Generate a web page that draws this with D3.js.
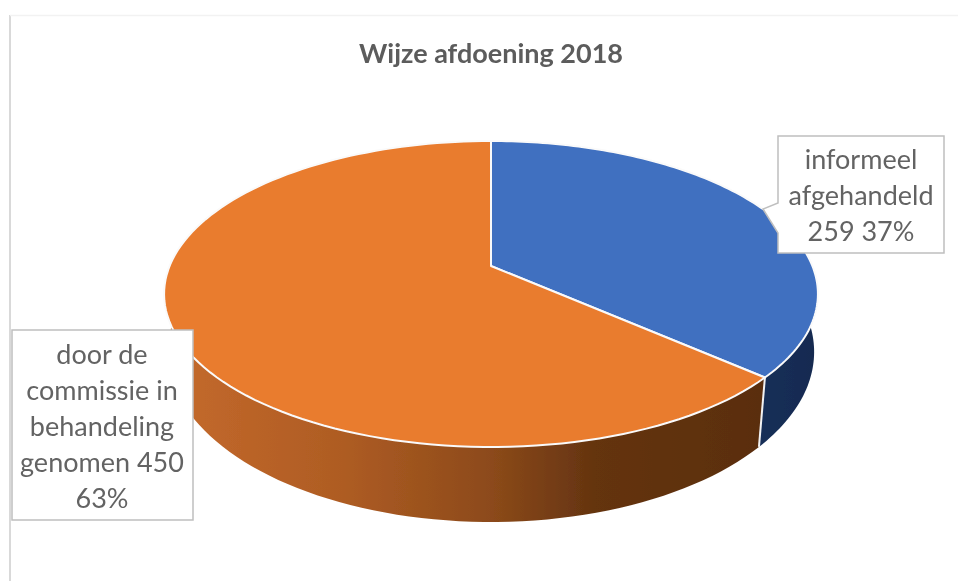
<!DOCTYPE html>
<html>
<head>
<meta charset="utf-8">
<script src="https://cdn.jsdelivr.net/npm/d3@7"></script>
<style>
html, body { margin: 0; padding: 0; background: #fff; }
svg { display: block; }
text { font-family: Lato, "Open Sans", sans-serif; fill: #636363; }
</style>
</head>
<body>
<script>
var title = 'Wijze afdoening 2018';
var categories = ['informeel afgehandeld', 'door de commissie in behandeling genomen'];
var values = [259, 450];
var percentLabels = ['37%', '63%'];
var topColors = ['#3f6fc0', '#e97b2e'];
var wallStops = [
  [['0%', '#182f58'], ['100%', '#142a50']],
  [['0%', '#c56a2c'], ['30%', '#ae5c23'], ['55%', '#8c4a1a'], ['72%', '#653410'], ['100%', '#5a2e10']]
];

var width = 958, height = 581;

var svg = d3.select('body').append('svg')
  .attr('width', width)
  .attr('height', height);

// slightly soft, the reference is an enlarged screenshot
var defs = svg.append('defs');
defs.append('filter').attr('id', 'soft')
  .append('feGaussianBlur').attr('stdDeviation', 0.7);

var root = svg.append('g').attr('filter', 'url(#soft)');

// chart frame, only left and top edge are visible
root.append('line').attr('x1', 10).attr('x2', 10).attr('y1', 15).attr('y2', height)
  .attr('stroke', '#d9d9d9').attr('stroke-width', 2);
root.append('line').attr('x1', 10).attr('x2', width).attr('y1', 15.5).attr('y2', 15.5)
  .attr('stroke', '#f2f2f2').attr('stroke-width', 1.5);

root.append('text')
  .attr('x', 491).attr('y', 63)
  .attr('text-anchor', 'middle')
  .style('font-size', '27px')
  .style('font-weight', 700)
  .style('fill', '#5c5c5c')
  .text(title);

// perspective disc: u,v on the unit circle, v towards the viewer
function project(plane, a) {
  var u = Math.sin(a), v = -Math.cos(a), w = 1 - plane.p * v;
  return [plane.x + plane.a * u / w, plane.y + plane.b * v / w];
}
var topPlane = {x: 491, y: 266, a: 321.4, b: 147.9, p: 0.183};
var bottomPlane = {x: 491, y: 323.8, a: 318.7, b: 165.5, p: 0.165};

var pie = d3.pie().sort(null);
var slices = pie(values);
var line = d3.line();

function rim(plane, d) {
  var n = 120;
  return d3.range(n + 1).map(function(i) {
    return project(plane, d.startAngle + (d.endAngle - d.startAngle) * i / n);
  });
}

// side walls first, the top faces cover their back part
slices.forEach(function(d, i) {
  var grad = defs.append('linearGradient')
    .attr('id', 'wall' + i)
    .attr('gradientUnits', 'userSpaceOnUse')
    .attr('x1', i == 0 ? 760 : 165).attr('x2', i == 0 ? 818 : 760)
    .attr('y1', 0).attr('y2', 0);
  wallStops[i].forEach(function(s) {
    grad.append('stop').attr('offset', s[0]).attr('stop-color', s[1]);
  });
  root.append('path')
    .attr('d', line(rim(topPlane, d).concat(rim(bottomPlane, d).reverse())) + 'Z')
    .attr('fill', 'url(#wall' + i + ')');
});

// seam between the two walls
root.append('line')
  .attr('x1', project(topPlane, slices[0].endAngle)[0])
  .attr('y1', project(topPlane, slices[0].endAngle)[1])
  .attr('x2', project(bottomPlane, slices[0].endAngle)[0])
  .attr('y2', project(bottomPlane, slices[0].endAngle)[1])
  .attr('stroke', '#f2f2f2').attr('stroke-width', 2);

// top faces
slices.forEach(function(d, i) {
  root.append('path')
    .attr('d', line([[topPlane.x, topPlane.y]].concat(rim(topPlane, d))) + 'Z')
    .attr('fill', topColors[i])
    .attr('stroke', '#fafafa')
    .attr('stroke-width', 2)
    .attr('stroke-linejoin', 'round');
});

// data labels
var labelLines = [
  ['informeel', 'afgehandeld', values[0] + ' ' + percentLabels[0]],
  ['door de', 'commissie in', 'behandeling', 'genomen ' + values[1], percentLabels[1]]
];
var boxes = [
  {path: 'M778,136H944V253H778V233L763,209L778,203Z', cx: 861, y0: 169, dy: 36},
  {path: 'M12,330H193V520H12Z', cx: 102, y0: 364, dy: 36}
];

boxes.forEach(function(b, i) {
  root.append('path')
    .attr('d', b.path)
    .attr('fill', '#fff')
    .attr('stroke', '#bfbfbf')
    .attr('stroke-width', 1.5);
  root.append('g').selectAll('text')
    .data(labelLines[i])
    .enter()
    .append('text')
    .attr('x', b.cx)
    .attr('y', function(d, j) { return b.y0 + j * b.dy; })
    .attr('text-anchor', 'middle')
    .style('font-size', '27px')
    .text(function(d) { return d; });
});
</script>
</body>
</html>
